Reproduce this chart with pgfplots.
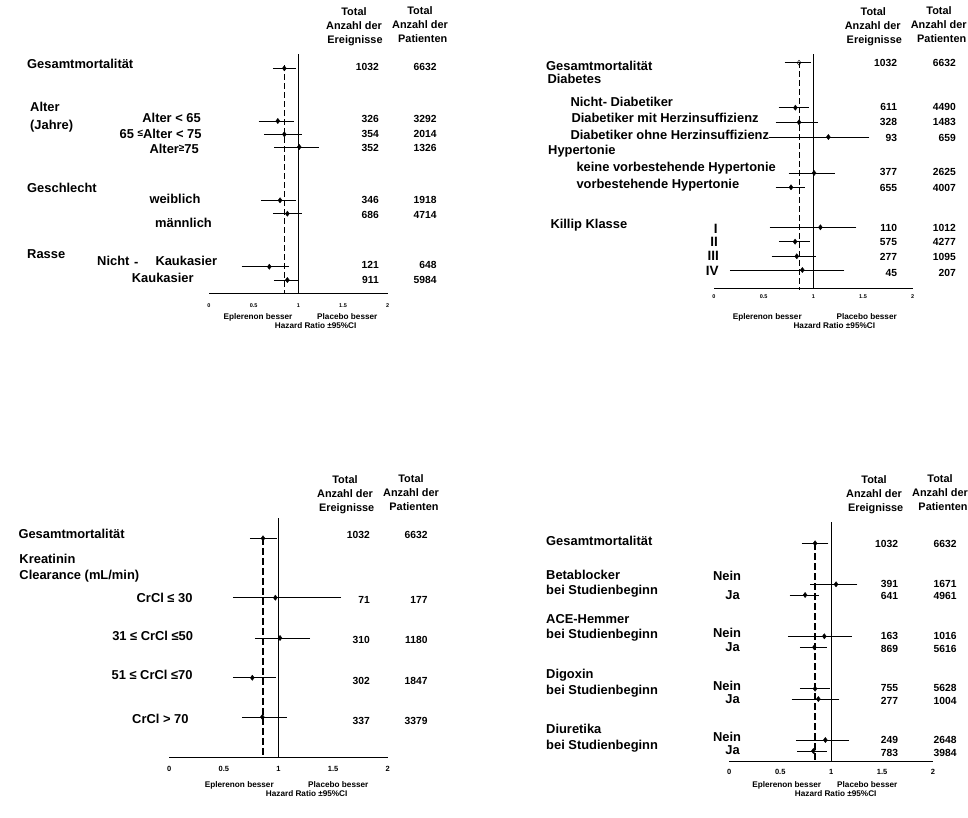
\documentclass[border=0pt]{standalone}
\usepackage{fontspec}
\setmainfont{Liberation Sans}
\usepackage{pgfplots}
\usepackage{pgfplotstable}
\pgfplotsset{compat=1.18}
\newcommand{\fs}[1]{\fontsize{#1}{#1}\selectfont}

% y = vertical layout position (row), hr = hazard ratio, lo/hi = 95% CI
\pgfplotstableread{
y hr lo hi
-68.3 0.843 0.742 0.944
-121 0.77 0.582 0.926
-134.3 0.843 0.649 1.008
-147 1.01 0.761 1.20
-200.3 0.795 0.608 0.944
-213.7 0.877 0.742 1.008
-266.7 0.675 0.392 0.87
-280 0.877 0.754 0.978
}\tabA
\pgfplotstableread{
y hr lo hi
-62.7 0.856 0.735 0.953
}\tabBtot
\pgfplotstableread{
y hr lo hi
-107.7 0.819 0.675 0.93
-122.3 0.856 0.645 1.02
-137 1.151 0.574 1.538
-173 1.007 0.775 1.191
-187.3 0.775 0.645 0.889
-227.3 1.071 0.584 1.407
-241.7 0.816 0.678 0.94
-256.3 0.833 0.604 1.0
-270 0.889 0.185 1.286
}\tabB
\pgfplotstableread{
y hr lo hi
-538.3 0.858 0.76 0.962
-597.7 0.971 0.604 1.551
-638 1.014 0.806 1.267
-677.7 0.76 0.604 0.953
-717 0.852 0.687 1.053
}\tabC
\pgfplotstableread{
y hr lo hi
-543.3 0.842 0.734 0.947
-584.3 1.048 0.819 1.232
-595 0.744 0.616 0.852
-636.3 0.933 0.599 1.179
-647.3 0.835 0.717 0.933
-688.7 0.842 0.717 0.963
-699 0.874 0.636 1.055
-740 0.943 0.678 1.153
-751 0.825 0.694 0.933
}\tabD

\pgfplotsset{
 forest/.style={scale only axis, anchor=south west, xmin=0, xmax=2,
   axis x line=bottom, axis y line=none,
   axis line style={-, line width=0.9pt, black},
   xtick={0,0.5,1,1.5,2}, xticklabels={0,0.5,1,1.5,2},
   major tick length=0pt, clip=false, ytick=\empty},
 ci/.style={only marks, black, mark=diamond*, mark size=2.6pt,
   error bars/x dir=both, error bars/x explicit,
   error bars/error bar style={line width=0.8pt, black},
   error bars/error mark options={black, mark size=2.5pt, line width=0.8pt}},
}
\tikzset{
 lab/.style={anchor=mid west, inner sep=0pt, font=\fs{12.9}\bfseries},
 labr/.style={anchor=mid east, inner sep=0pt, font=\fs{12.9}\bfseries},
 labb/.style={anchor=mid west, inner sep=0pt, font=\fs{12.9}\bfseries},
 labbr/.style={anchor=mid east, inner sep=0pt, font=\fs{12.9}\bfseries},
 num/.style={anchor=mid east, inner sep=0pt, font=\fs{10.3}\bfseries},
 hdr/.style={anchor=mid, inner sep=0pt, font=\fs{10.9}\bfseries},
 foot/.style={anchor=mid, inner sep=0pt, font=\fs{8.2}\bfseries},
 rom/.style={anchor=mid, inner sep=0pt, font=\fs{13.5}\bfseries},
}

\begin{document}
\begin{tikzpicture}
\useasboundingbox (0pt,0pt) rectangle (968pt,-817pt);

% ---------------- Panel A (top left) ----------------
\begin{axis}[forest, at={(209pt,-293.3pt)}, width=178.7pt, height=239.3pt,
  ymin=-293.3, ymax=-54,
  xticklabel style={font=\fs{5.5}\bfseries, anchor=center, yshift=-12.4pt}]
\addplot[black, line width=0.9pt] coordinates {(1,-54) (1,-293.3)};
\addplot[black, line width=0.9pt, dash pattern=on 6pt off 3pt] coordinates {(0.843,-65) (0.843,-293.3)};
\addplot[ci] table[x=hr, y=y, x error plus expr=\thisrow{hi}-\thisrow{hr}, x error minus expr=\thisrow{hr}-\thisrow{lo}] {\tabA};
\end{axis}
\node[hdr] at (354pt,-13.3pt) {Total};
\node[hdr] at (354pt,-27.3pt) {Anzahl der};
\node[hdr] at (355pt,-41pt) {Ereignisse};
\node[hdr] at (420pt,-12.3pt) {Total};
\node[hdr] at (420pt,-26.3pt) {Anzahl der};
\node[hdr] at (422.7pt,-40pt) {Patienten};
\node[lab] at (27pt,-66pt) {Gesamtmortalität};
\node[lab] at (30pt,-109pt) {Alter};
\node[lab] at (30pt,-126.7pt) {(Jahre)};
\node[lab] at (27pt,-190pt) {Geschlecht};
\node[lab] at (27pt,-256pt) {Rasse};
\node[lab] at (149.3pt,-201pt) {weiblich};
\node[lab] at (155pt,-225pt) {männlich};
\node[lab] at (97pt,-263pt) {Nicht};
\node[lab] at (134pt,-264pt) {-};
\node[lab] at (155.3pt,-263pt) {Kaukasier};
\node[lab] at (131.7pt,-280pt) {Kaukasier};
\node[labr] at (201pt,-120pt) {Alter < 65};
\node[labr] at (201.7pt,-135.7pt) {65 \raisebox{2pt}{\fs{10}≤}Alter < 75};
\node[labr] at (199pt,-151pt) {Alter\raisebox{2pt}{\fs{10}≥}75};
\foreach \a/\b/\yy in {1032/6632/68, 326/3292/120, 354/2014/135, 352/1326/149, 346/1918/201, 686/4714/216, 121/648/266, 911/5984/281}{
  \node[num] at (379pt,-\yy pt) {\a};
  \node[num] at (436.7pt,-\yy pt) {\b};
}
\node[foot] at (258pt,-316.7pt) {Eplerenon besser};
\node[foot] at (347.3pt,-316.7pt) {Placebo besser};
\node[foot] at (315.7pt,-326pt) {Hazard Ratio ±95\%CI};

% ---------------- Panel B (top right) ----------------
\begin{axis}[forest, at={(714pt,-288.7pt)}, width=198.7pt, height=234.7pt,
  ymin=-288.7, ymax=-54,
  xticklabel style={font=\fs{5.5}\bfseries, anchor=center, yshift=-8pt}]
\addplot[black, line width=0.9pt] coordinates {(1,-54) (1,-288.7)};
\addplot[black, line width=0.9pt, dash pattern=on 6pt off 3pt] coordinates {(0.856,-62) (0.856,-290)};
\addplot[ci, mark=diamond, mark options={fill=white}] table[x=hr, y=y, x error plus expr=\thisrow{hi}-\thisrow{hr}, x error minus expr=\thisrow{hr}-\thisrow{lo}] {\tabBtot};
\addplot[ci] table[x=hr, y=y, x error plus expr=\thisrow{hi}-\thisrow{hr}, x error minus expr=\thisrow{hr}-\thisrow{lo}] {\tabB};
\end{axis}
\node[hdr] at (873.3pt,-13.3pt) {Total};
\node[hdr] at (872.7pt,-27.3pt) {Anzahl der};
\node[hdr] at (874.3pt,-41pt) {Ereignisse};
\node[hdr] at (939pt,-12.3pt) {Total};
\node[hdr] at (938.7pt,-26pt) {Anzahl der};
\node[hdr] at (941.7pt,-40pt) {Patienten};
\node[lab] at (546pt,-68.3pt) {Gesamtmortalität};
\node[lab] at (547.3pt,-81pt) {Diabetes};
\node[lab] at (570.3pt,-104.3pt) {Nicht- Diabetiker};
\node[lab] at (571.3pt,-120pt) {Diabetiker mit Herzinsuffizienz};
\node[lab] at (570.3pt,-137pt) {Diabetiker ohne Herzinsuffizienz};
\node[lab] at (548pt,-152.3pt) {Hypertonie};
\node[lab] at (576.3pt,-169.3pt) {keine vorbestehende Hypertonie};
\node[lab] at (576.3pt,-186pt) {vorbestehende Hypertonie};
\node[lab] at (550.3pt,-226.3pt) {Killip Klasse};
\node[rom] at (715.7pt,-231pt) {I};
\node[rom] at (714pt,-244.3pt) {II};
\node[rom] at (713.3pt,-258.3pt) {III};
\node[rom] at (712.3pt,-272.7pt) {IV};
\foreach \a/\b/\yy in {1032/6632/63.7, 611/4490/107.7, 328/1483/123, 93/659/139, 377/2625/173, 655/4007/189, 110/1012/229, 575/4277/243, 277/1095/257.7, 45/207/274}{
  \node[num] at (897.3pt,-\yy pt) {\a};
  \node[num] at (956pt,-\yy pt) {\b};
}
\node[foot] at (767.3pt,-316.7pt) {Eplerenon besser};
\node[foot] at (866.7pt,-316.7pt) {Placebo besser};
\node[foot] at (834.3pt,-325.7pt) {Hazard Ratio ±95\%CI};

% ---------------- Panel C (bottom left) ----------------
\begin{axis}[forest, at={(169.3pt,-757.7pt)}, width=218.4pt, height=239.4pt,
  ymin=-757.7, ymax=-518.3,
  xticklabel style={font=\fs{7.5}\bfseries, anchor=center, yshift=-11.3pt}]
\addplot[black, line width=0.9pt] coordinates {(1,-518.3) (1,-757.7)};
\addplot[black, line width=1.8pt, dash pattern=on 7pt off 3pt] coordinates {(0.858,-538) (0.858,-757.7)};
\addplot[ci] table[x=hr, y=y, x error plus expr=\thisrow{hi}-\thisrow{hr}, x error minus expr=\thisrow{hr}-\thisrow{lo}] {\tabC};
\end{axis}
\node[hdr] at (345pt,-481pt) {Total};
\node[hdr] at (345pt,-495pt) {Anzahl der};
\node[hdr] at (346.7pt,-509pt) {Ereignisse};
\node[hdr] at (411pt,-480pt) {Total};
\node[hdr] at (411pt,-494.3pt) {Anzahl der};
\node[hdr] at (414pt,-508pt) {Patienten};
\node[lab] at (18.3pt,-536.3pt) {Gesamtmortalität};
\node[lab] at (19.3pt,-561pt) {Kreatinin};
\node[lab] at (19.3pt,-577.3pt) {Clearance (mL/min)};
\node[labr] at (192.7pt,-600pt) {CrCl ≤ 30};
\node[labr] at (193.3pt,-638pt) {31 ≤ CrCl ≤50};
\node[labr] at (192.7pt,-677pt) {51 ≤ CrCl ≤70};
\node[labr] at (188.7pt,-721pt) {CrCl > 70};
\foreach \a/\b/\yy in {1032/6632/536, 71/177/601, 310/1180/641, 302/1847/682, 337/3379/722}{
  \node[num] at (370pt,-\yy pt) {\a};
  \node[num] at (427.7pt,-\yy pt) {\b};
}
\node[foot] at (239.3pt,-785pt) {Eplerenon besser};
\node[foot] at (338.3pt,-785pt) {Placebo besser};
\node[foot] at (306.7pt,-794pt) {Hazard Ratio ±95\%CI};

% ---------------- Panel D (bottom right) ----------------
\begin{axis}[forest, at={(729.3pt,-761.7pt)}, width=203.7pt, height=239.4pt,
  ymin=-761.7, ymax=-522.3,
  xticklabel style={font=\fs{7.5}\bfseries, anchor=center, yshift=-10.6pt}]
\addplot[black, line width=0.9pt] coordinates {(1,-522.3) (1,-761.7)};
\addplot[black, line width=1.8pt, dash pattern=on 7pt off 3pt] coordinates {(0.842,-543) (0.842,-761.7)};
\addplot[ci] table[x=hr, y=y, x error plus expr=\thisrow{hi}-\thisrow{hr}, x error minus expr=\thisrow{hr}-\thisrow{lo}] {\tabD};
\end{axis}
\node[hdr] at (874pt,-481pt) {Total};
\node[hdr] at (874pt,-495pt) {Anzahl der};
\node[hdr] at (875.7pt,-509pt) {Ereignisse};
\node[hdr] at (940pt,-480pt) {Total};
\node[hdr] at (940pt,-494pt) {Anzahl der};
\node[hdr] at (943pt,-508pt) {Patienten};
\node[labb] at (546pt,-543pt) {Gesamtmortalität};
\node[labb] at (546pt,-577.3pt) {Betablocker};
\node[labb] at (546pt,-592.3pt) {bei Studienbeginn};
\node[labb] at (546pt,-620.7pt) {ACE-Hemmer};
\node[labb] at (546pt,-636.3pt) {bei Studienbeginn};
\node[labb] at (546pt,-676.3pt) {Digoxin};
\node[labb] at (546pt,-692.3pt) {bei Studienbeginn};
\node[labb] at (546pt,-731.3pt) {Diuretika};
\node[labb] at (546pt,-747pt) {bei Studienbeginn};
\foreach \yn/\yj in {578.3/596.7, 635.3/649, 688.3/700.7, 739.3/751.7}{
  \node[labbr] at (741.3pt,-\yn pt) {Nein};
  \node[labbr] at (740pt,-\yj pt) {Ja};
}
\foreach \a/\b/\yy in {1032/6632/544.7, 391/1671/585.3, 641/4961/597, 163/1016/637, 869/5616/650, 755/5628/689, 277/1004/702, 249/2648/741, 783/3984/753.7}{
  \node[num] at (898.3pt,-\yy pt) {\a};
  \node[num] at (956.7pt,-\yy pt) {\b};
}
\node[foot] at (786.7pt,-785pt) {Eplerenon besser};
\node[foot] at (867.3pt,-785pt) {Placebo besser};
\node[foot] at (835.7pt,-794pt) {Hazard Ratio ±95\%CI};
\end{tikzpicture}
\end{document}
